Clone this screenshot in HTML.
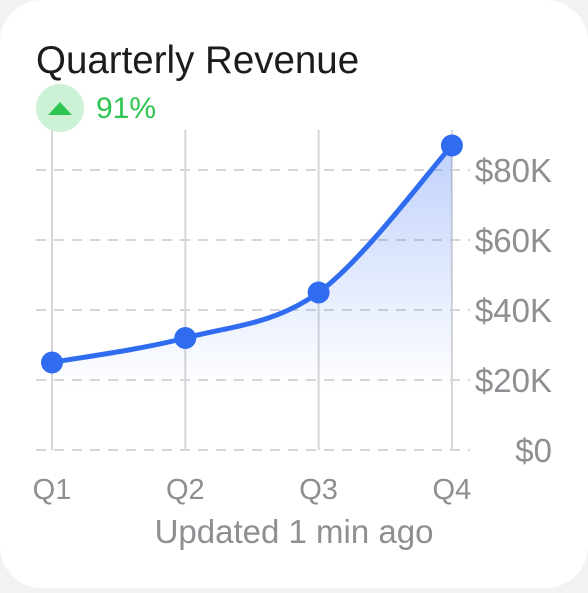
<!DOCTYPE html>
<html><head><meta charset="utf-8"><style>
html,body{margin:0;padding:0;background:#f2f2f2;}
body{width:588px;height:588px;overflow:hidden;font-family:"Liberation Sans",sans-serif;}
.card{position:absolute;left:0;top:0;width:588px;height:588px;background:#fff;border-radius:42px;}
</style></head><body>
<div class="card">
<svg width="588" height="588">
<defs><linearGradient id="g" x1="0" y1="0" x2="0" y2="1"><stop offset="0" stop-color="#3a6ff0" stop-opacity="0.32"/><stop offset="0.8" stop-color="#3a6ff0" stop-opacity="0"/></linearGradient></defs>
<text x="36" y="73" font-size="38.5" fill="#1c1c1e">Quarterly Revenue</text>
<circle cx="60" cy="108" r="24" fill="#cdf1d5"/>
<polygon points="48,115 72,115 60,102" fill="#2fc552"/>
<text x="96" y="118" font-size="30" fill="#2fc552">91%</text>
<g id="grid"></g><g id="marks"></g>
<text x="294" y="543" font-size="33" fill="#8e8e93" text-anchor="middle">Updated 1 min ago</text>
</svg></div>
<script>
const categories=["Q1","Q2","Q3","Q4"];
const values=[25,32,45,87];
const yTicks=[0,20,40,60,80];
const yLabels=["$0","$20K","$40K","$60K","$80K"];
const ns="http://www.w3.org/2000/svg";
const x=i=>52+i*133.3, y=v=>450-v*3.5;
function mk(t,a,p){const e=document.createElementNS(ns,t);for(const k in a)e.setAttribute(k,a[k]);p.appendChild(e);return e;}
const grid=document.getElementById('grid'),marks=document.getElementById('marks');
yTicks.forEach((t,i)=>{
 const l=mk('line',{x1:36,x2:470,y1:y(t),y2:y(t),stroke:'#d6d6d8','stroke-width':2,'stroke-dasharray':'10 8'},grid);
 
 
 const tx=mk('text',{x:552,y:y(t)+12,'font-size':33,fill:'#8e8e93','text-anchor':'end'},grid);tx.textContent=yLabels[i];
 
 
});
categories.forEach((c,i)=>{
 const l=mk('line',{x1:x(i),x2:x(i),y1:130,y2:450,stroke:'#d6d6d8','stroke-width':2},grid);
 
 
 const tx=mk('text',{x:x(i),y:499,'font-size':29,fill:'#8e8e93','text-anchor':'middle'},grid);tx.textContent=c;
 
 
});
const pts=values.map((v,i)=>[x(i),y(v)]);
let d='M'+pts[0].join(',');
for(let i=0;i<pts.length-1;i++){
 const p0=pts[i-1]||pts[i],p1=pts[i],p2=pts[i+1],p3=pts[i+2]||p2;
 const c1=[p1[0]+(p2[0]-p0[0])/6,p1[1]+(p2[1]-p0[1])/6],c2=[p2[0]-(p3[0]-p1[0])/6,p2[1]-(p3[1]-p1[1])/6];
 d+=` C${c1} ${c2} ${p2}`;
}
const area=mk('path',{d:d+` L${pts[3][0]},450 L${pts[0][0]},450 Z`,fill:'url(#g)'},marks);


const line=mk('path',{d:d,fill:'none',stroke:'#2f6cf0','stroke-width':5,'stroke-linecap':'round'},marks);


pts.forEach(p=>{const c=mk('circle',{cx:p[0],cy:p[1],r:11,fill:'#2f6cf0'},marks);
 
 });
</script>
</body></html>
